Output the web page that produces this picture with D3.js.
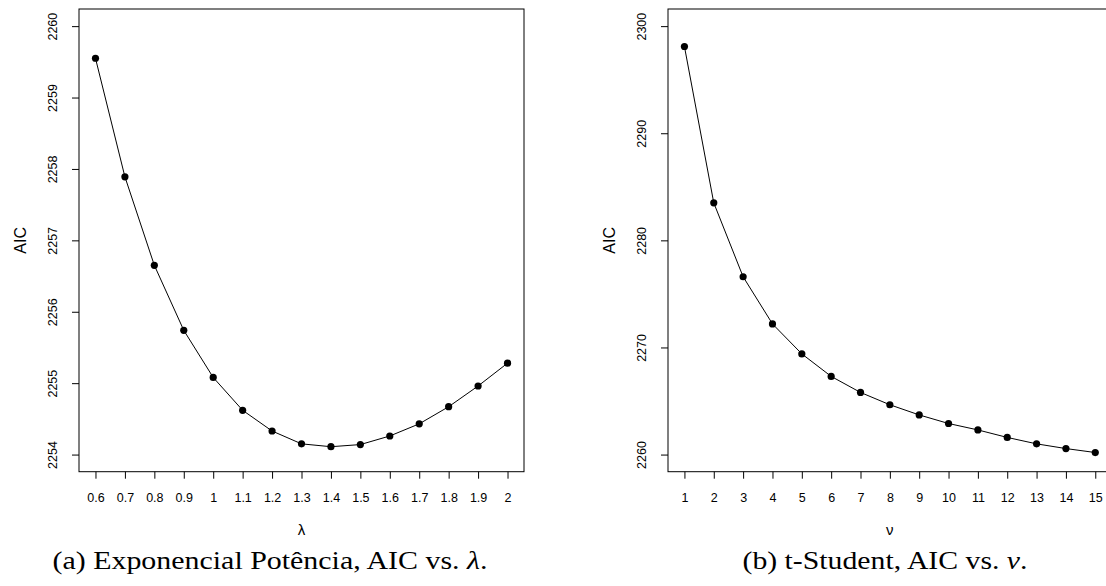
<!DOCTYPE html>
<html>
<head>
<meta charset="utf-8">
<script src="https://cdn.jsdelivr.net/npm/d3@7"></script>
<style>
  body { margin: 0; background: #fff; }
  svg { display: block; }
</style>
</head>
<body>
<div id="chart"></div>
<script>
// Values
const lambdaVals = [0.6, 0.7, 0.8, 0.9, 1.0, 1.1, 1.2, 1.3, 1.4, 1.5, 1.6, 1.7, 1.8, 1.9, 2.0];
const aicExpPot = [2259.55, 2257.89, 2256.65, 2255.74, 2255.08, 2254.62, 2254.33, 2254.15,
  2254.11, 2254.14, 2254.26, 2254.43, 2254.67, 2254.96, 2255.28];
const lambdaTicks = [0.6, 0.7, 0.8, 0.9, 1, 1.1, 1.2, 1.3, 1.4, 1.5, 1.6, 1.7, 1.8, 1.9, 2];
const expPotYTicks = [2254, 2255, 2256, 2257, 2258, 2259, 2260];

const nuVals = [1, 2, 3, 4, 5, 6, 7, 8, 9, 10, 11, 12, 13, 14, 15];
const aicStudent = [2298.1, 2283.5, 2276.6, 2272.2, 2269.4, 2267.3, 2265.8, 2264.65,
  2263.7, 2262.9, 2262.3, 2261.6, 2261.0, 2260.56, 2260.19];
const nuTicks = [1, 2, 3, 4, 5, 6, 7, 8, 9, 10, 11, 12, 13, 14, 15];
const studentYTicks = [2260, 2270, 2280, 2290, 2300];

const width = 1106, height = 586;

const svg = d3.select("#chart")
  .append("svg")
  .attr("width", width)
  .attr("height", height);

// R style: the plot region is 4% wider than the limits on each side
function extend(lo, hi) {
  const d = (hi - lo) * 0.04;
  return [lo - d, hi + d];
}

function drawPanel(opt) {
  const x = d3.scaleLinear()
    .domain(extend(opt.xlim[0], opt.xlim[1]))
    .range([opt.left, opt.right]);
  const y = d3.scaleLinear()
    .domain(extend(opt.ylim[0], opt.ylim[1]))
    .range([opt.bottom, opt.top]);

  const g = svg.append("g");

  // Box
  g.append("rect")
    .attr("x", opt.left)
    .attr("y", opt.top)
    .attr("width", opt.right - opt.left)
    .attr("height", opt.bottom - opt.top)
    .attr("fill", "none")
    .attr("stroke", "#000")
    .attr("stroke-width", 1);

  // X axis
  const xAxis = g.append("g")
    .attr("transform", "translate(0," + opt.bottom + ")")
    .call(d3.axisBottom(x)
      .tickValues(opt.xTicks)
      .tickFormat(d => String(d))
      .tickSize(7));
  xAxis.select(".domain").remove();
  xAxis.selectAll("line").attr("stroke", "#000");
  xAxis.selectAll("text")
    .attr("y", 21)
    .attr("fill", "#000")
    .style("font-family", "'Liberation Sans', Arial, sans-serif")
    .style("font-size", "12.5px");

  // Y axis, labels parallel to the axis
  const yAxis = g.append("g")
    .attr("transform", "translate(" + opt.left + ",0)")
    .call(d3.axisLeft(y)
      .tickValues(opt.yTicks)
      .tickFormat(d => String(d))
      .tickSize(7));
  yAxis.select(".domain").remove();
  yAxis.selectAll("line").attr("stroke", "#000");
  yAxis.selectAll("text")
    .attr("x", 0)
    .attr("dy", "0.35em")
    .attr("transform", "translate(-26,0) rotate(-90)")
    .style("text-anchor", "middle")
    .attr("fill", "#000")
    .style("font-family", "'Liberation Sans', Arial, sans-serif")
    .style("font-size", "12.5px");

  // Line and points
  const pts = opt.xs.map((v, i) => [v, opt.ys[i]]);
  g.append("path")
    .datum(pts)
    .attr("fill", "none")
    .attr("stroke", "#000")
    .attr("stroke-width", 1)
    .attr("d", d3.line().x(d => x(d[0])).y(d => y(d[1])));

  g.selectAll("circle")
    .data(pts)
    .enter()
    .append("circle")
    .attr("cx", d => x(d[0]))
    .attr("cy", d => y(d[1]))
    .attr("r", 3.6)
    .attr("fill", "#000");

  // Axis titles
  g.append("text")
    .attr("x", (opt.left + opt.right) / 2)
    .attr("y", 535)
    .attr("text-anchor", "middle")
    .style("font-family", "'Liberation Sans', Arial, sans-serif")
    .style("font-size", "15px")
    .text(opt.xTitle);

  g.append("text")
    .attr("transform", "translate(" + (opt.left - 59) + "," + ((opt.top + opt.bottom) / 2) + ") rotate(-90)")
    .attr("dy", "0.35em")
    .attr("text-anchor", "middle")
    .style("font-family", "'Liberation Sans', Arial, sans-serif")
    .style("font-size", "16px")
    .text("AIC");

  // Caption
  const cap = svg.append("text")
    .attr("x", opt.capX)
    .attr("y", 569)
    .attr("text-anchor", "middle")
    .attr("textLength", opt.capW)
    .attr("lengthAdjust", "spacingAndGlyphs")
    .style("font-family", "'Liberation Serif', 'Times New Roman', serif")
    .style("font-size", "25px");
  cap.append("tspan").text(opt.caption);
  cap.append("tspan").style("font-style", "italic").text(opt.capSym);
  cap.append("tspan").text(".");
}

drawPanel({
  left: 79, right: 524, top: 9, bottom: 471.7,
  xlim: [0.6, 2], ylim: [2254, 2260],
  xTicks: lambdaTicks, yTicks: expPotYTicks,
  xs: lambdaVals, ys: aicExpPot,
  xTitle: "λ",
  caption: "(a) Exponencial Potência, AIC vs. ", capSym: "λ",
  capX: 270, capW: 435
});

drawPanel({
  left: 668, right: 1111.7, top: 9, bottom: 471.7,
  xlim: [1, 15], ylim: [2260, 2300],
  xTicks: nuTicks, yTicks: studentYTicks,
  xs: nuVals, ys: aicStudent,
  xTitle: "ν",
  caption: "(b) t-Student, AIC vs. ", capSym: "ν",
  capX: 885, capW: 285
});
</script>
</body>
</html>
